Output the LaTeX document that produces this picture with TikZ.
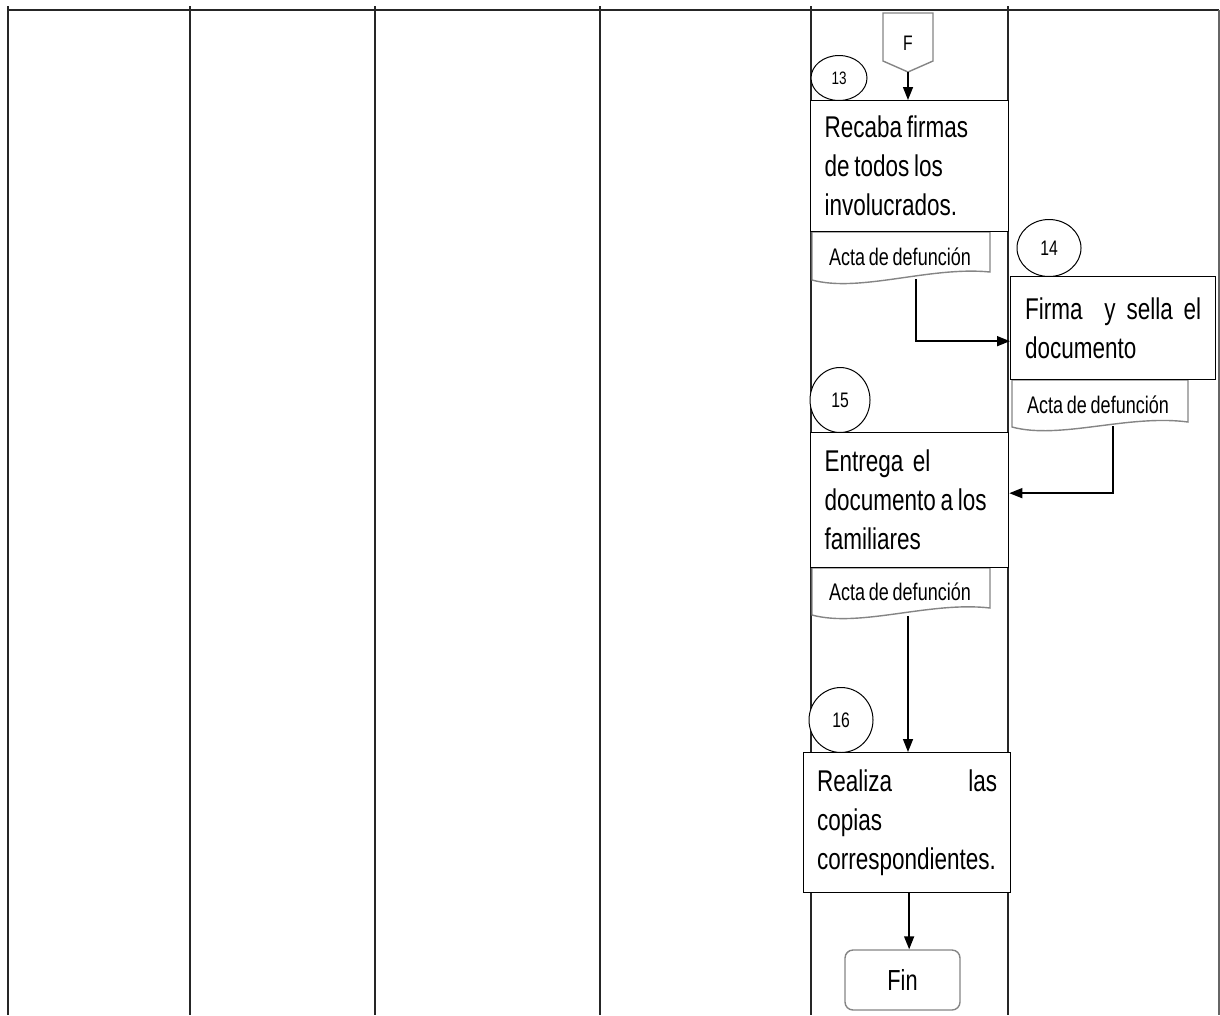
\documentclass[tikz,border=0pt]{standalone}
\usepackage{fontspec}
\setmainfont{Liberation Sans}[FakeStretch=0.75,WordSpace=0.75]
\usetikzlibrary{arrows.meta,shapes.geometric}
\definecolor{docgray}{HTML}{858585}
\newcommand\resetsp{\spaceskip=0pt\xspaceskip=0pt\relax}
\begin{document}
\begin{tikzpicture}[x=1pt,y=-1pt,
  lane/.style={line width=1.6pt, black!85},
  task/.style={draw=black, line width=1.3pt, fill=white, rectangle, inner xsep=0pt, inner ysep=0pt,
    font=\fontsize{30}{39}\selectfont, anchor=north west},
  docshape/.style={draw=docgray, line width=1.4pt, fill=white},
  doctext/.style={font=\fontsize{24}{28}\selectfont, anchor=base, inner sep=0pt},
  numcirc/.style={draw=black, line width=1pt, ellipse, fill=white, inner sep=0pt},
  arr/.style={line width=1.5pt, -{Triangle[length=13pt,width=10pt]}},
  endbox/.style={draw=docgray, line width=1.4pt, rounded corners=8pt, fill=white, inner sep=0pt,
    minimum width=115pt, minimum height=60pt, font=\fontsize{29}{34}\selectfont}
]
\useasboundingbox (0,0) rectangle (1220,1015);
% swimlane grid
\draw[lane, line width=2.2pt] (8,10) -- (1219,10);
\foreach \xx in {8,190,375,600,811,1008} {\draw[lane] (\xx,6) -- (\xx,1015);}
\draw[lane, black!60] (1219,10) -- (1219,1015);

% off-page connector F
\draw[docshape] (883,13) -- (933,13) -- (933,61) -- (908,72) -- (883,61) -- cycle;
\node[font=\fontsize{21}{24}\selectfont, anchor=base, inner sep=0pt] (F) at (908,50) {F};
\coordinate (Ftip) at (908,72);

% documents
\draw[docshape] (990,232) -- (812,232) -- (812,280) .. controls (860,293) and (930,266) .. (990,272) -- cycle;
\node[doctext] (d13) at (900,265) {Acta de defunción};
\coordinate (d13b) at (916,279);

\draw[docshape] (1188,380) -- (1012,380) -- (1012,427) .. controls (1060,440) and (1128,414) .. (1188,422) -- cycle;
\node[doctext] (d14) at (1098,413) {Acta de defunción};
\coordinate (d14b) at (1113,426);

\draw[docshape] (990,568) -- (812,568) -- (812,615) .. controls (860,628) and (930,601) .. (990,608) -- cycle;
\node[doctext] (d15) at (900,600) {Acta de defunción};
\coordinate (d15b) at (908,616);

% number circles
\node[numcirc, minimum width=56pt, minimum height=45pt, font=\fontsize{18}{20}\selectfont] (c13) at (839,78) {13};
\node[numcirc, minimum width=64pt, minimum height=57pt, font=\fontsize{21}{24}\selectfont] (c14) at (1049,248) {14};
\node[numcirc, minimum width=60pt, minimum height=65pt, font=\fontsize{21}{24}\selectfont] (c15) at (840,400) {15};
\node[numcirc, minimum width=64pt, minimum height=65pt, font=\fontsize{21}{24}\selectfont] (c16) at (841,720) {16};

% tasks
\node[task, minimum width=198pt, minimum height=131pt, text width=170pt, align=left] (t13) at (810,100)
  {\resetsp Recaba firmas\\de todos los\\involucrados.};
\node[task, minimum width=205pt, minimum height=103pt, text width=176pt, align=justify] (t14) at (1010,276)
  {\resetsp Firma\ \ y sella el\linebreak documento};
\node[task, minimum width=198pt, minimum height=135pt, text width=170pt, align=left] (t15) at (810,432)
  {\resetsp Entrega\ \ el\\documento a los\\familiares};
\node[task, minimum width=207pt, minimum height=140pt, text width=180pt, align=justify] (t16) at (803,752)
  {\resetsp Realiza las\linebreak copias\\correspondientes.};

% end
\node[endbox] (fin) at (902.5,980) {Fin};

% connectors
\draw[arr] (Ftip) -- (Ftip |- t13.north);
\draw[arr] (d13b) |- ([yshift=-13pt]t14.west);
\draw[arr] (d14b) |- ([yshift=7pt]t15.east);
\draw[arr] (d15b) -- (d15b |- t16.north);
\draw[arr] ([xshift=2pt]t16.south) -- ([xshift=2pt]t16.south |- fin.north);
\end{tikzpicture}
\end{document}
